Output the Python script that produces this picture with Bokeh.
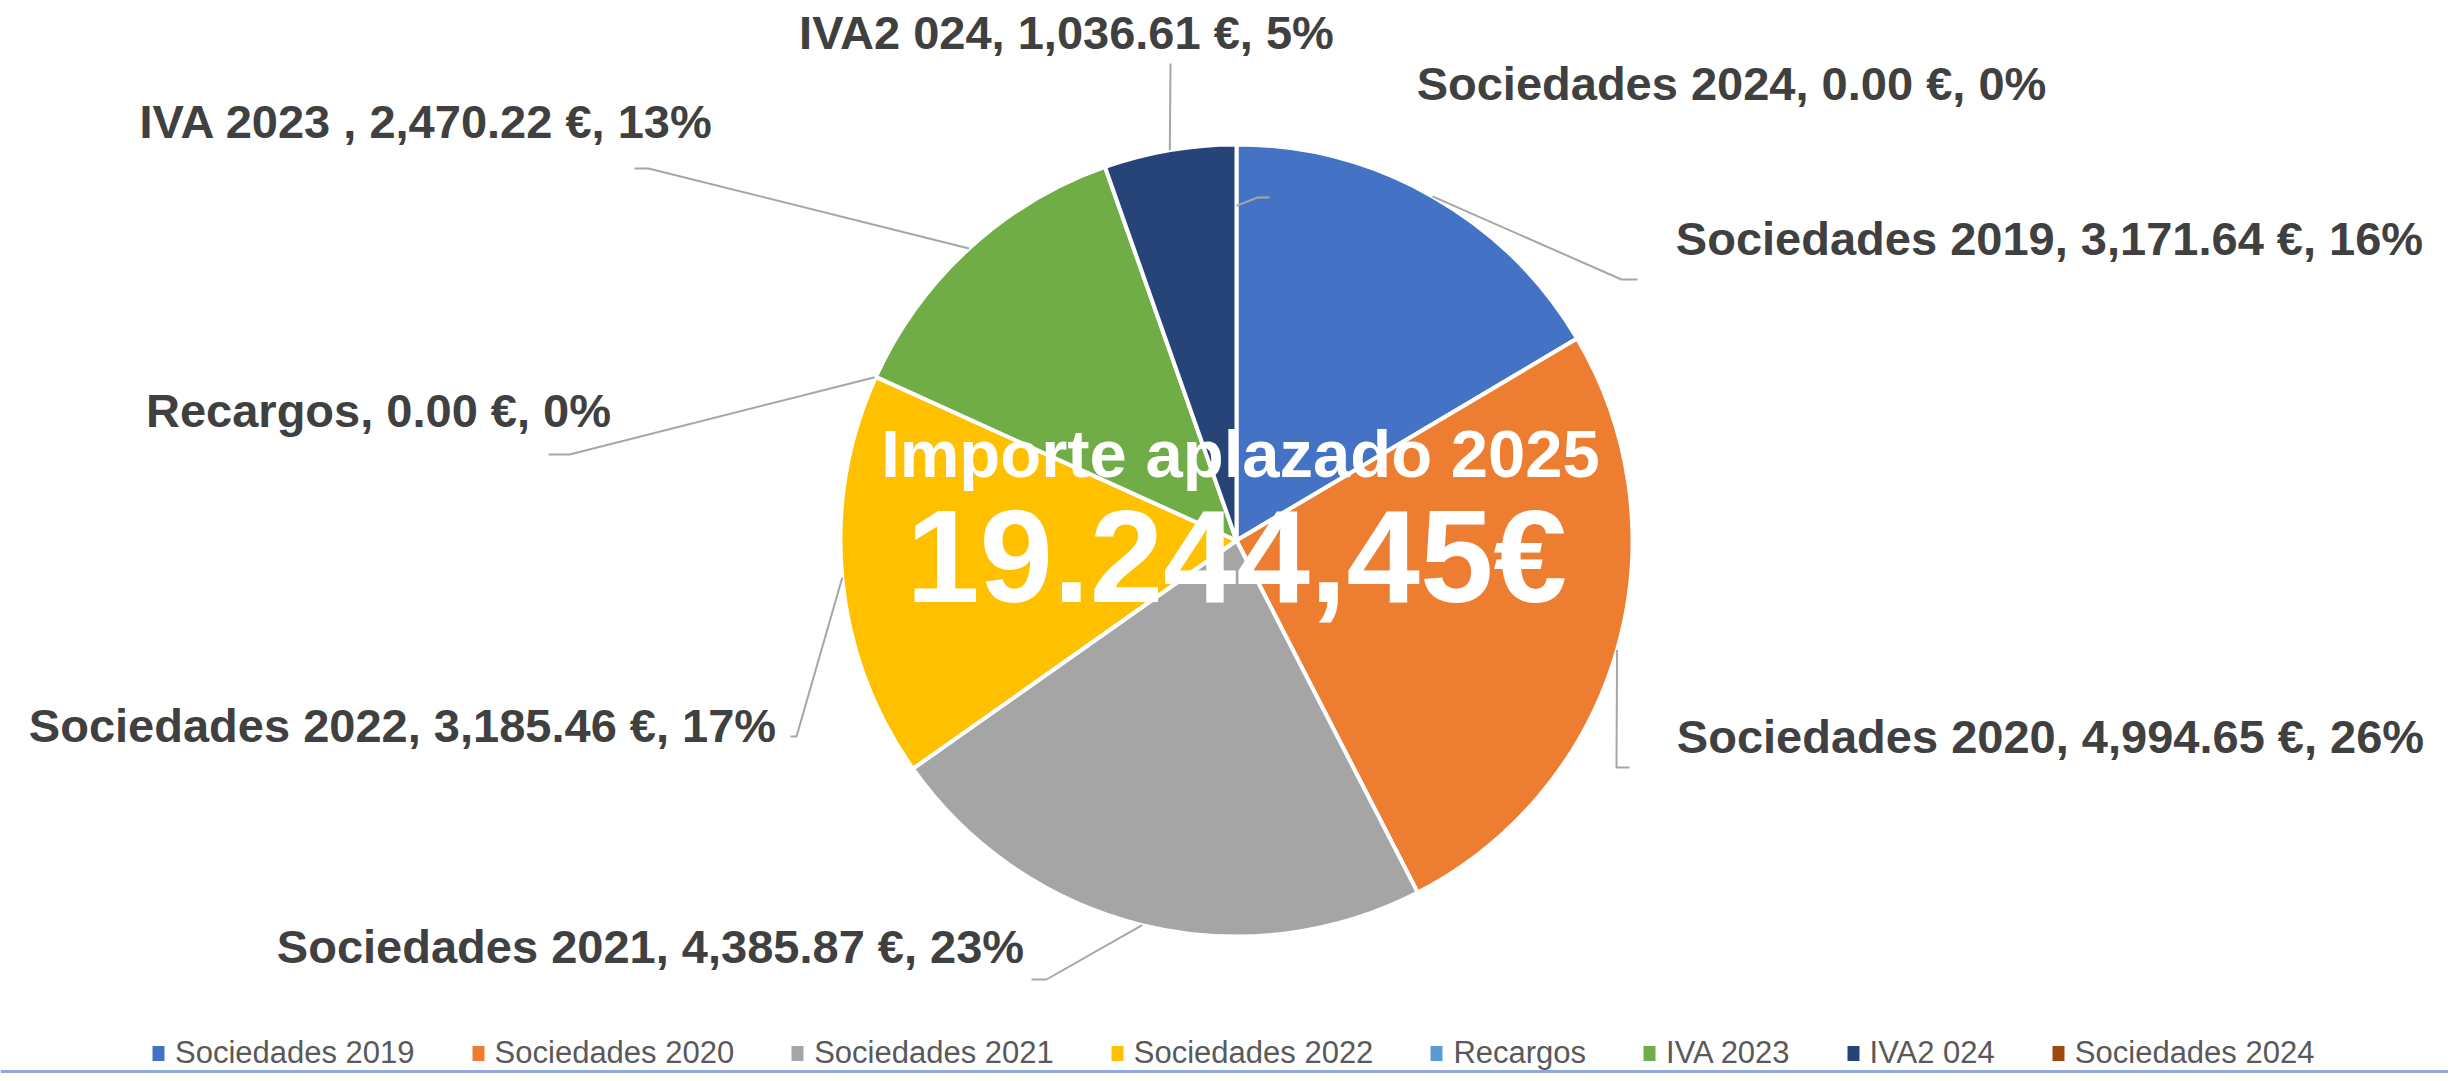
import math
from bokeh.plotting import figure
from bokeh.models import Range1d, ColumnDataSource, Legend, LegendItem
from bokeh.core.properties import value
from bokeh.embed import file_html
from bokeh.resources import INLINE

# ---------------- data ----------------
categories = ["Sociedades 2019", "Sociedades 2020", "Sociedades 2021", "Sociedades 2022",
              "Recargos", "IVA 2023", "IVA2 024", "Sociedades 2024"]
label_names = ["Sociedades 2019", "Sociedades 2020", "Sociedades 2021", "Sociedades 2022",
               "Recargos", "IVA 2023 ", "IVA2 024", "Sociedades 2024"]
amounts = [3171.64, 4994.65, 4385.87, 3185.46, 0.00, 2470.22, 1036.61, 0.00]
colors = ["#4472C4", "#ED7D31", "#A5A5A5", "#FFC000", "#5B9BD5", "#70AD47", "#264478", "#9E480E"]
center_title = "Importe aplazado 2025"

# ---------------- layout (image pixel coordinates) ----------------
W, H = 2448, 1073
IMG_H = 1081
cx_img, cy_img, R = 1236, 540, 396
label_pos = {
    "Sociedades 2019": (2049, 238),
    "Sociedades 2020": (2050, 736),
    "Sociedades 2021": (650, 946),
    "Sociedades 2022": (402, 725),
    "Recargos": (378, 410),
    "IVA 2023": (426, 121),
    "IVA2 024": (1066, 32),
    "Sociedades 2024": (1731, 83),
}
leader_r = {"Sociedades 2024": 0.845}
leader_path = {
    "Sociedades 2019": [(1621, 279), (1637, 279)],
    "Sociedades 2020": [(1616, 767), (1629, 767)],
    "Sociedades 2021": [(1046, 979), (1031, 979)],
    "Sociedades 2022": [(796, 736), (790, 736)],
    "Recargos": [(569, 454), (548, 454)],
    "IVA 2023": [(648, 168), (634, 168)],
    "IVA2 024": [(1170, 63)],
    "Sociedades 2024": [(1257, 197), (1269, 197)],
}


def Y(img_y):
    return IMG_H - img_y


total = sum(amounts)
total_txt = f"{total:,.2f}".replace(",", "X").replace(".", ",").replace("X", ".") + "€"

p = figure(width=W, height=H, output_backend="svg", toolbar_location=None,
           x_range=Range1d(0, W), y_range=Range1d(IMG_H - H, IMG_H),
           min_border=0)
p.axis.visible = False
p.grid.visible = False
p.outline_line_color = None
p.background_fill_color = "white"
p.border_fill_color = "white"

cx, cy = cx_img, Y(cy_img)
cum = 0.0
renderers = []
for cat, lab, amt, col in zip(categories, label_names, amounts, colors):
    a0 = cum / total * 2 * math.pi
    cum += amt
    a1 = cum / total * 2 * math.pi
    # a zero-valued slice has no area: draw it with no radius (legend swatch still shown)
    rad = R if amt > 0 else 0
    src = ColumnDataSource(dict(x=[cx], y=[cy], r=[rad], s=[math.pi / 2 - a0], e=[math.pi / 2 - a1]))
    r = p.wedge(x="x", y="y", radius="r", start_angle="s", end_angle="e", direction="clock",
                fill_color=col, line_color="white", line_width=4, source=src)
    renderers.append(r)

    # leader line
    mid = (a0 + a1) / 2
    rr = R * leader_r.get(cat, 1.0)
    sx = cx + rr * math.sin(mid)
    sy = cy + rr * math.cos(mid)
    xs = [sx] + [pt[0] for pt in leader_path[cat]]
    ys = [sy] + [Y(pt[1]) for pt in leader_path[cat]]
    p.line(xs, ys, line_color="#A6A6A6", line_width=2)

    # data label
    pct = round(amt / total * 100)
    txt = f"{lab}, {amt:,.2f} €, {pct}%"
    lx, ly = label_pos[cat]
    p.text(x=[lx], y=[Y(ly)], text=[txt], text_align="center", text_baseline="middle",
           text_font=value("Liberation Sans"), text_font_style="bold",
           text_font_size="47px", text_color="#404040")

# center texts
p.text(x=[1240], y=[Y(453)], text=[center_title], text_align="center", text_baseline="middle",
       text_font=value("Liberation Sans"), text_font_style="bold",
       text_font_size="67px", text_color="white")
p.text(x=[1236], y=[Y(556)], text=[total_txt], text_align="center", text_baseline="middle",
       text_font=value("Liberation Sans"), text_font_style="bold",
       text_font_size="132px", text_color="white")

# bottom border line
p.segment(x0=[0], y0=[Y(1071)], x1=[W], y1=[Y(1071)], line_color="#8EA9DB", line_width=3)

legend = Legend(items=[LegendItem(label=c, renderers=[r]) for c, r in zip(categories, renderers)],
                orientation="horizontal", location=(148, 2))
legend.label_text_font = "Liberation Sans"
legend.label_text_font_size = "31px"
legend.label_text_color = "#595959"
legend.glyph_width = 20
legend.glyph_height = 24
legend.label_standoff = 7
legend.spacing = 53
legend.padding = 0
legend.margin = 0
legend.border_line_color = None
legend.background_fill_alpha = 0
p.add_layout(legend)

open("out.html", "w").write(file_html(p, INLINE))
